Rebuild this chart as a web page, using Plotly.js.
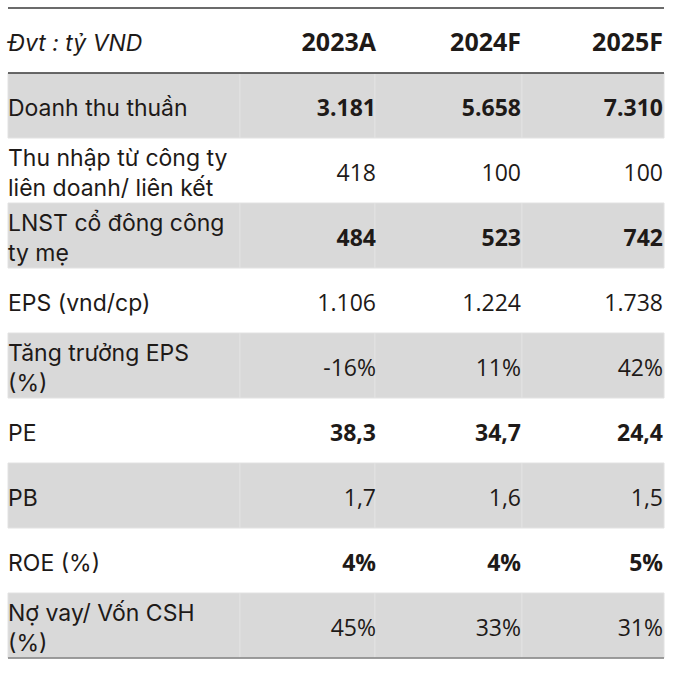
<!DOCTYPE html>
<html>
<head>
<meta charset="utf-8">
<script src="https://cdn.plot.ly/plotly-3.0.1.min.js"></script>
<style>html,body{margin:0;padding:0;background:#fff}#chart{width:678px;height:674px}</style>
</head>
<body>
<div id="chart"></div>
<script>
const unitLabel = 'Đvt : tỷ VND';
const years = ['2023A', '2024F', '2025F'];
const categories = [
  'Doanh thu thuần',
  'Thu nhập từ công ty<br>liên doanh/ liên kết',
  'LNST cổ đông công<br>ty mẹ',
  'EPS (vnd/cp)',
  'Tăng trưởng EPS<br>(%)',
  'PE',
  'PB',
  'ROE (%)',
  'Nợ vay/ Vốn CSH<br>(%)'
];
const values2023 = [3181, 418, 484, 1106, -16, 38.3, 1.7, 4, 45];
const values2024 = [5658, 100, 523, 1224, 11, 34.7, 1.6, 4, 33];
const values2025 = [7310, 100, 742, 1738, 42, 24.4, 1.5, 5, 31];
const rowFormat = ['int', 'int', 'int', 'int', 'pct', 'dec', 'dec', 'pct', 'pct'];
const rowBold = [true, false, true, false, false, true, false, true, false];
const shadedRows = [1, 3, 5, 7, 9];

function fmt(v, f) {
  if (f === 'int') return String(Math.round(v)).replace(/\B(?=(\d{3})+(?!\d))/g, '.');
  if (f === 'dec') return v.toFixed(1).replace('.', ',');
  return String(v) + '%';
}

const colLeft = [8, 240, 375, 522];
const colRight = [240, 375, 522, 664];
const valueX = [376, 521, 663];
const LABEL_FONT = 'Inter, "Open Sans", sans-serif';
const VALUE_FONT = '"Open Sans", Inter, sans-serif';
const TXT = '#1e1a18';
const dy = 0.07;

const traces = [];
for (let c = 0; c < 4; c++) {
  traces.push({
    type: 'bar', orientation: 'h',
    y: shadedRows,
    x: shadedRows.map(() => colRight[c] - colLeft[c]),
    base: shadedRows.map(() => colLeft[c]),
    width: 1,
    marker: {color: '#d9d9d9', line: {color: '#e2e2e2', width: 1}},
    hoverinfo: 'skip', showlegend: false
  });
}
const rowIdx = categories.map((_, i) => i + 1);
traces.push({
  type: 'scatter', mode: 'text',
  x: [8].concat(categories.map(() => 8)),
  y: [0].concat(rowIdx).map(v => v + dy),
  text: ['<i>' + unitLabel + '</i>'].concat(categories),
  textposition: 'middle right',
  textfont: {family: LABEL_FONT, size: 23, color: TXT},
  hoverinfo: 'skip', showlegend: false, cliponaxis: false
});
const series = [values2023, values2024, values2025];
series.forEach((vals, c) => {
  traces.push({
    type: 'scatter', mode: 'text',
    x: vals.map(() => valueX[c]),
    y: rowIdx.map(v => v + dy),
    text: vals.map((v, i) => {
      const s = fmt(v, rowFormat[i]);
      return rowBold[i] ? '<b>' + s + '</b>' : s;
    }),
    textposition: 'middle left',
    textfont: {family: VALUE_FONT, size: 23, color: TXT},
    hoverinfo: 'skip', showlegend: false, cliponaxis: false
  });
});
traces.push({
  type: 'scatter', mode: 'text',
  x: valueX,
  y: years.map(() => dy),
  text: years.map(t => '<b>' + t + '</b>'),
  textposition: 'middle left',
  textfont: {family: VALUE_FONT, size: 25, color: TXT},
  hoverinfo: 'skip', showlegend: false, cliponaxis: false
});

const layout = {
  width: 678, height: 674,
  margin: {l: 0, r: 0, t: 0, b: 0},
  paper_bgcolor: '#fff', plot_bgcolor: '#fff',
  xaxis: {range: [0, 678], visible: false, fixedrange: true},
  yaxis: {range: [9.746, -0.623], visible: false, fixedrange: true},
  barmode: 'overlay',
  shapes: [
    {type: 'line', xref: 'x', yref: 'y', x0: 8, x1: 664, y0: -0.5, y1: -0.5, line: {color: '#3a3a3a', width: 1.5}},
    {type: 'line', xref: 'x', yref: 'y', x0: 8, x1: 664, y0: 0.5, y1: 0.5, line: {color: '#3a3a3a', width: 1.5}},
    {type: 'line', xref: 'x', yref: 'y', x0: 8, x1: 664, y0: 9.5, y1: 9.5, line: {color: '#808080', width: 1.5}}
  ],
  showlegend: false,
  hovermode: false
};
Plotly.newPlot('chart', traces, layout, {staticPlot: true, displayModeBar: false});
</script>
</body>
</html>
